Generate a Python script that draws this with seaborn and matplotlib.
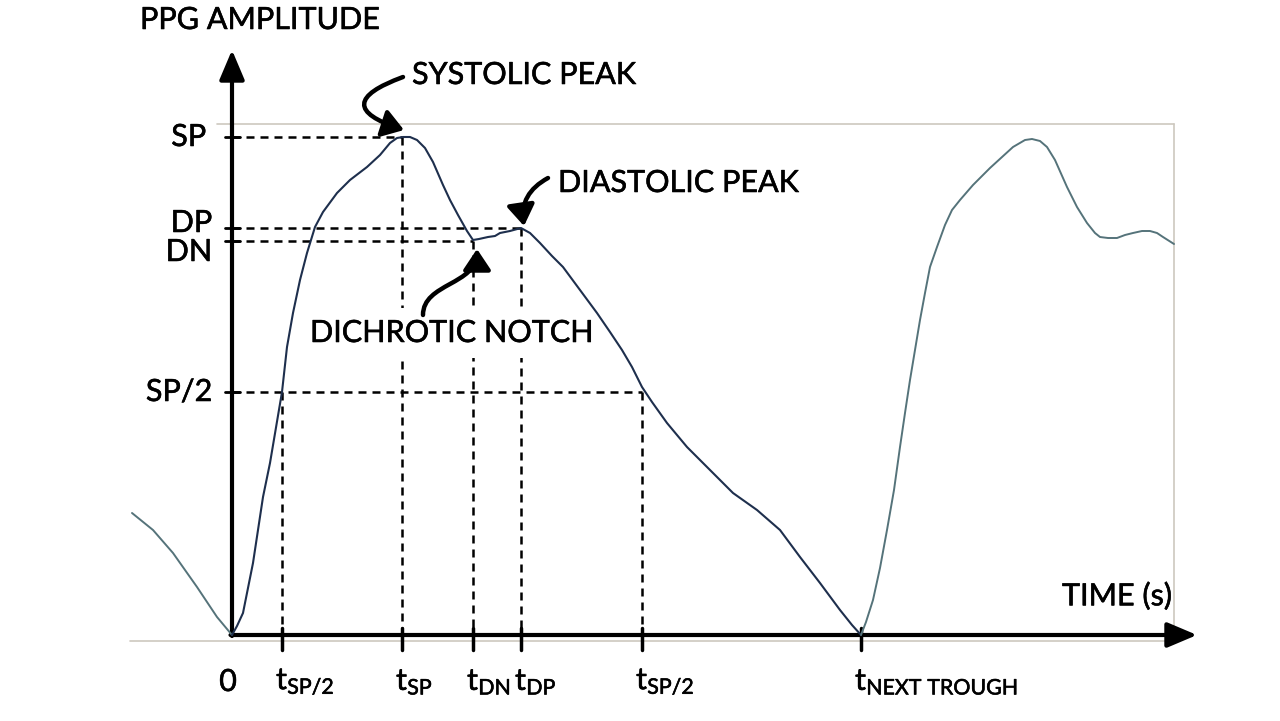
import numpy as np
import pandas as pd
import matplotlib
matplotlib.use("Agg")
import matplotlib.pyplot as plt
import matplotlib.patheffects as pe
from matplotlib.patches import FancyArrowPatch
from matplotlib.path import Path
import seaborn as sns

# time in ms, amplitude in arbitrary units
pre_time = [-100, -79, -59, -35, -15, 0]
pre_amp = [122, 105, 82, 48, 18, 0]

beat1_time = [0, 5, 11, 21, 31, 38, 50, 55, 61, 68, 75, 83, 91, 105, 118, 135, 148, 158, 165,
              171, 178, 185, 193, 201, 211, 218, 226, 235, 241, 247, 256, 263,
              268, 278, 289, 298, 308, 320, 331, 348, 365, 378, 390, 400, 410, 420, 435, 455,
              481, 501, 525, 548, 568, 588, 608, 620, 629]
beat1_amp = [0, 9, 22, 72, 138, 172, 243, 288, 322, 355, 382, 408, 423, 442, 455, 468, 480, 492, 497,
             498, 498, 495, 487, 473, 450, 435, 420, 404, 395, 396, 398, 399,
             402, 404, 407, 402, 392, 379, 368, 345, 322, 303, 285, 268, 248, 233, 212, 188,
             162, 142, 125, 105, 78, 52, 25, 10, 0]

beat2_time = [629, 634, 641, 648, 655, 662, 668, 673, 678, 683, 688, 693, 698, 705, 713, 720,
              728, 741, 758, 781, 793, 800, 808, 815, 823, 835, 845, 855, 863, 868, 876, 885,
              893, 901, 910, 918, 925, 931, 942]
beat2_amp = [0, 13, 35, 67, 105, 145, 188, 222, 255, 285, 315, 342, 368, 388, 410, 425,
             435, 450, 467, 488, 495, 496, 494, 488, 475, 448, 428, 412, 402, 398, 397, 397,
             400, 402, 404, 404, 402, 398, 391]

# feature points
SP, DP, DN, SP_HALF = 498, 407, 394, 243
T_SP_HALF1, T_SP, T_DN, T_DP, T_SP_HALF2, T_TROUGH = 50, 170, 241, 289, 410, 629

y_marks = [SP, DP, DN, SP_HALF]
y_labels = ["SP", "DP", "DN", "SP/2"]
y_label_x = [-26, -20, -20, -20]
y_label_dy = [0, 5, -11, 0]

x_marks = [0, T_SP_HALF1, T_SP, T_DN, T_DP, T_SP_HALF2, T_TROUGH]
x_labels = ["0", r"$\mathrm{t}_{\mathrm{SP/2}}$", r"$\mathrm{t}_{\mathrm{SP}}$",
            r"$\mathrm{t}_{\mathrm{DN}}$", r"$\mathrm{t}_{\mathrm{DP}}$",
            r"$\mathrm{t}_{\mathrm{SP/2}}$", r"$\mathrm{t}_{\mathrm{NEXT\ TROUGH}}$"]

sns.set_theme(style="white")
plt.rcParams["font.family"] = ["Lato", "DejaVu Sans"]
plt.rcParams["mathtext.fontset"] = "custom"
plt.rcParams["mathtext.rm"] = "Lato"
plt.rcParams["mathtext.it"] = "Lato"
plt.rcParams["text.color"] = "black"

fig = plt.figure(figsize=(12.8, 7.21), dpi=100)
ax = fig.add_axes([0, 0, 1, 1])
ax.set_xlim(-232, 1048)
ax.set_ylim(-86, 635)
ax.axis("off")

FS = 22
bold_fx = [pe.withStroke(linewidth=0.4, foreground="black")]
dark = "#1e2f4d"
grey_line = "#55737a"

# light frame
box_c = "#cdc8bf"
ax.plot([-15, 942], [511, 511], color=box_c, lw=1.2, zorder=1)
ax.plot([942, 942], [511, -7], color=box_c, lw=1.2, zorder=1)
ax.plot([-102, 942], [-6, -6], color=box_c, lw=1.2, zorder=1)

# dashed guide lines
dash = dict(color="black", lw=1.8, dashes=(3.2, 2.4), zorder=2)
ax.plot([0, T_SP], [SP, SP], **dash)
ax.plot([T_SP, T_SP], [SP, 0], **dash)
ax.plot([0, T_DP], [DP, DP], **dash)
ax.plot([T_DP, T_DP], [DP, 0], **dash)
ax.plot([0, T_DN], [DN, DN], **dash)
ax.plot([T_DN, T_DN], [DN, 0], **dash)
ax.plot([0, T_SP_HALF2], [SP_HALF, SP_HALF], **dash)
ax.plot([T_SP_HALF1, T_SP_HALF1], [SP_HALF, 0], **dash)
ax.plot([T_SP_HALF2, T_SP_HALF2], [SP_HALF, 0], **dash)

# waveform (above the label box so it is not hidden)
sns.lineplot(x=pre_time, y=pre_amp, color=grey_line, lw=1.4, sort=False, estimator=None, ax=ax, zorder=6)
sns.lineplot(x=beat1_time, y=beat1_amp, color=dark, lw=1.5, sort=False, estimator=None, ax=ax, zorder=6)
sns.lineplot(x=beat2_time, y=beat2_amp, color=grey_line, lw=1.4, sort=False, estimator=None, ax=ax, zorder=6)

# axes with arrows
ax.annotate("", xy=(0, 585), xytext=(0, -1),
            arrowprops=dict(arrowstyle="-|>,head_length=1.3,head_width=0.55", lw=3, color="black",
                            shrinkA=0, shrinkB=0, mutation_scale=14), zorder=4)
ax.annotate("", xy=(965, 0), xytext=(-1.5, 0),
            arrowprops=dict(arrowstyle="-|>,head_length=1.3,head_width=0.55", lw=3, color="black",
                            shrinkA=0, shrinkB=0, mutation_scale=14), zorder=4)

# ticks and tick labels
for ym, lab, lx, dy in zip(y_marks, y_labels, y_label_x, y_label_dy):
    ax.plot([-7, 8], [ym, ym], color="black", lw=2, zorder=4)
    ax.text(lx, ym + dy, lab, fontsize=FS, ha="right", va="center", path_effects=bold_fx)
for xm, lab in zip(x_marks, x_labels):
    if xm != 0:
        ax.plot([xm, xm], [7, -15], color="black", lw=2.5, zorder=4)
    if xm == 0:
        ax.text(-4, -47, lab, fontsize=FS, ha="center", va="center", path_effects=bold_fx)
    else:
        ax.text(xm - 6, -47, lab, fontsize=FS, ha="left", va="center", path_effects=bold_fx)

# axis titles
ax.text(-92, 615, "PPG AMPLITUDE", fontsize=FS, ha="left", va="center", path_effects=bold_fx)
ax.text(830, 39, "TIME (s)", fontsize=FS, ha="left", va="center", path_effects=bold_fx)

# annotations
ax.text(180, 560, "SYSTOLIC PEAK", fontsize=FS, ha="left", va="center", path_effects=bold_fx)
ax.text(326, 452, "DIASTOLIC PEAK", fontsize=FS, ha="left", va="center", path_effects=bold_fx)
ax.text(78, 302, "DICHROTIC NOTCH", fontsize=FS, ha="left", va="center", zorder=5,
        path_effects=bold_fx, bbox=dict(facecolor="white", edgecolor="none", pad=8))

arrow_kw = dict(arrowstyle="-|>,head_length=0.9,head_width=0.6", lw=3.2, color="black",
                shrinkA=0, shrinkB=0, mutation_scale=14)
ax.annotate("", xy=(172, 505), xytext=(171, 558),
            arrowprops=dict(connectionstyle="arc3,rad=1.45", **arrow_kw), zorder=7)
ax.annotate("", xy=(292, 409), xytext=(316, 457),
            arrowprops=dict(connectionstyle="arc3,rad=0.35", **arrow_kw), zorder=7)
s_path = Path([(191, 320), (191, 352), (245, 350), (245, 386)],
              [Path.MOVETO, Path.CURVE4, Path.CURVE4, Path.CURVE4])
ax.add_patch(FancyArrowPatch(path=s_path, zorder=7, **arrow_kw))

fig.savefig("out.png", dpi=100, facecolor="white")
